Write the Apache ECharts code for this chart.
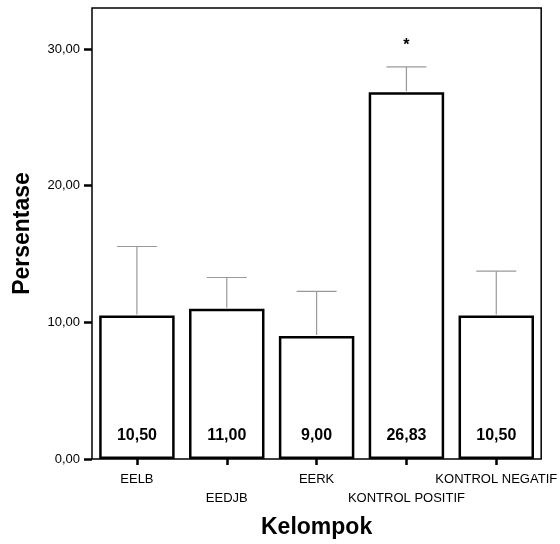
<!DOCTYPE html>
<html><head><meta charset="utf-8">
<script src="https://cdn.jsdelivr.net/npm/echarts@6/dist/echarts.min.js"></script>
<style>html,body{margin:0;padding:0;background:#fff}#c{width:560px;height:544px}</style>
</head><body><div id="c"></div>
<script>
const categories = ['EELB', 'EEDJB', 'EERK', 'KONTROL POSITIF', 'KONTROL NEGATIF'];
const means = [10.50, 11.00, 9.00, 26.83, 10.50];
const upperErr = [15.55, 13.28, 12.26, 28.69, 13.74];
const significance = ['', '', '', '*', ''];
const yTicks = [0, 10, 20, 30];

const fmt = v => v.toFixed(2).replace('.', ',');
const F = 'Liberation Sans, Arial, sans-serif';

const chart = echarts.init(document.getElementById('c'));
chart.setOption({
  animation: false,
  grid: { left: 92, right: 17, top: 8, bottom: 83, show: true, borderColor: '#000', borderWidth: 1.5, backgroundColor: '#fff' },
  xAxis: {
    type: 'category', data: categories,
    name: 'Kelompok', nameLocation: 'middle', nameGap: 57,
    nameTextStyle: { fontFamily: F, fontWeight: 'bold', fontSize: 23, color: '#000' },
    axisLine: { show: false },
    axisTick: { show: true, alignWithLabel: true, length: 6, lineStyle: { color: '#000', width: 2.5 } },
    axisLabel: {
      interval: 0, margin: 11, fontFamily: F, fontSize: 13, color: '#000', lineHeight: 19,
      formatter: (v, i) => (i % 2 ? '\n' + v : v)
    }
  },
  yAxis: {
    type: 'value', min: 0, max: 33, interval: 10,
    name: 'Persentase', nameLocation: 'middle', nameGap: 58, nameRotate: 90,
    nameTextStyle: { fontFamily: F, fontWeight: 'bold', fontSize: 23, color: '#000' },
    splitLine: { show: false },
    axisLine: { show: false },
    axisTick: { show: true, length: 8, customValues: yTicks, lineStyle: { color: '#000', width: 2.5 } },
    axisLabel: {
      fontFamily: F, fontSize: 13, color: '#000', margin: 12, customValues: yTicks,
      formatter: v => fmt(v)
    }
  },
  series: [
    {
      type: 'bar', data: means, barCategoryGap: '16%',
      itemStyle: { color: '#fff', borderColor: '#000', borderWidth: 2.5 },
      label: {
        show: true, position: 'insideBottom', distance: 15,
        fontFamily: F, fontWeight: 'bold', fontSize: 16, color: '#000',
        formatter: p => fmt(p.value)
      },
      z: 2
    },
    {
      type: 'custom', z: 3,
      data: categories.map((c, i) => [i, means[i], upperErr[i]]),
      renderItem: (params, api) => {
        const i = api.value(0);
        const base = api.coord([i, api.value(1)]);
        const top = api.coord([i, api.value(2)]);
        const hw = 20;
        const children = [
          { type: 'line', shape: { x1: base[0], y1: base[1] - 1, x2: top[0], y2: top[1] }, style: { stroke: '#999', lineWidth: 1.2 } },
          { type: 'line', shape: { x1: top[0] - hw, y1: top[1], x2: top[0] + hw, y2: top[1] }, style: { stroke: '#999', lineWidth: 1.2 } }
        ];
        const s = significance[params.dataIndex];
        if (s) {
          children.push({ type: 'text', style: { text: s, x: top[0], y: top[1] - 21, align: 'center', verticalAlign: 'middle', font: 'bold 16px ' + F, fill: '#000' } });
        }
        return { type: 'group', children };
      }
    }
  ]
});
</script></body></html>
